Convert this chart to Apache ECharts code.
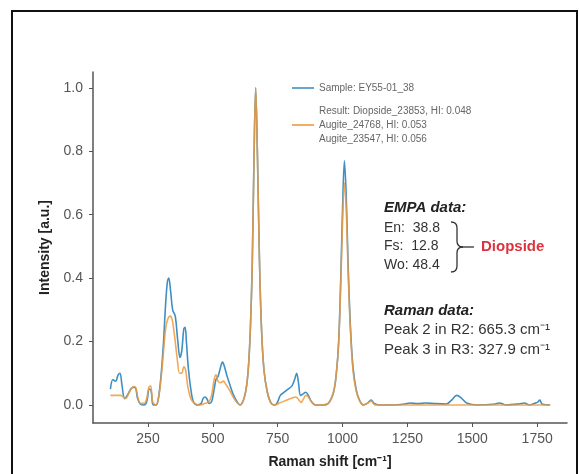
<!DOCTYPE html>
<html>
<head>
<meta charset="utf-8">
<script src="https://cdn.jsdelivr.net/npm/echarts@6/dist/echarts.min.js"></script>
<style>
  html, body { margin: 0; padding: 0; background: #fff; }
  #chart { width: 579px; height: 474px; }
</style>
</head>
<body>
<div id="chart"></div>
<script>
// Sample spectrum (blue)
var sampleShift = [105, 115, 125, 135, 142, 150, 160, 170, 180, 190, 200, 210, 220, 235, 245, 255, 262, 270, 282, 290,
  300, 310, 318, 325, 330, 337, 345, 355, 365, 373, 380, 388, 393, 398, 405, 415, 425, 440, 455, 462,
  470, 478, 485, 495, 505, 512, 520, 530, 537, 545, 555, 565, 580, 595, 605, 612, 620, 630, 638, 645,
  652, 658, 665, 672, 679, 687, 697, 710, 725, 740, 750, 760, 775, 790, 805, 815, 823, 830, 838, 848,
  858, 868, 880, 895, 920, 945, 965, 976, 985, 993, 1000, 1007, 1014, 1021, 1030, 1040, 1052, 1065, 1080, 1095, 1110,
  1122, 1140, 1200, 1240, 1260, 1290, 1320, 1360, 1400, 1420, 1440, 1460, 1480, 1520, 1580, 1605, 1630, 1680, 1700, 1720,
  1750, 1760, 1770, 1800];
var sampleIntensity = [0.05, 0.08, 0.075, 0.095, 0.10, 0.06, 0.02, 0.03, 0.045, 0.055, 0.055, 0.02, 0.003, 0.0, 0.01, 0.05, 0.045, 0.0, 0.0, 0.02,
  0.09, 0.2, 0.32, 0.39, 0.40, 0.36, 0.30, 0.28, 0.20, 0.15, 0.17, 0.24, 0.245, 0.20, 0.12, 0.05, 0.01, 0.0, 0.005, 0.02,
  0.025, 0.018, 0.005, 0.01, 0.05, 0.08, 0.09, 0.12, 0.135, 0.12, 0.09, 0.065, 0.03, 0.008, 0.0, 0.005, 0.02, 0.06, 0.13, 0.25,
  0.45, 0.75, 1.00, 0.78, 0.48, 0.25, 0.11, 0.04, 0.005, 0.0, 0.01, 0.03, 0.04, 0.05, 0.06, 0.08, 0.10, 0.07, 0.03, 0.035,
  0.04, 0.03, 0.01, 0.0, 0.0, 0.005, 0.04, 0.10, 0.20, 0.40, 0.62, 0.77, 0.66, 0.45, 0.25, 0.12, 0.05, 0.015, 0.0, 0.005, 0.015,
  0.005, 0.0, 0.0, 0.003, 0.006, 0.004, 0.006, 0.004, 0.003, 0.015, 0.03, 0.02, 0.005, 0.0, 0.002, 0.006, 0.0, 0.003, 0.006, 0.0,
  0.008, 0.015, 0.002, 0.0];

// Best match reference spectrum (orange)
var refShift = [105, 130, 145, 155, 165, 175, 185, 195, 203, 212, 222, 235, 245, 253, 260, 268, 280, 290, 300, 310,
  318, 326, 335, 343, 352, 362, 372, 380, 388, 395, 403, 415, 430, 450, 470, 485, 495, 505, 512, 520,
  530, 540, 550, 562, 575, 590, 605, 620, 630, 638, 645, 652, 658, 665, 672, 679, 687, 697, 710, 725,
  740, 755, 775, 800, 820, 832, 840, 850, 858, 868, 880, 895, 920, 945, 965, 976, 985, 993, 1000, 1007, 1014,
  1021, 1030, 1040, 1052, 1065, 1080, 1095, 1110, 1125, 1200, 1800];
var refIntensity = [0.03, 0.03, 0.03, 0.025, 0.02, 0.035, 0.05, 0.058, 0.055, 0.02, 0.005, 0.005, 0.02, 0.055, 0.06, 0.01, 0.0, 0.02, 0.08, 0.17,
  0.24, 0.27, 0.28, 0.27, 0.22, 0.15, 0.10, 0.10, 0.12, 0.11, 0.06, 0.02, 0.005, 0.0, 0.005, 0.01, 0.03, 0.08, 0.095, 0.075,
  0.07, 0.075, 0.065, 0.05, 0.03, 0.01, 0.0, 0.02, 0.06, 0.13, 0.25, 0.45, 0.75, 1.00, 0.78, 0.48, 0.25, 0.11, 0.04, 0.005,
  0.0, 0.005, 0.012, 0.02, 0.025, 0.015, 0.008, 0.02, 0.03, 0.025, 0.01, 0.0, 0.0, 0.005, 0.04, 0.10, 0.20, 0.38, 0.58, 0.70, 0.62,
  0.43, 0.24, 0.11, 0.045, 0.015, 0.0, 0.005, 0.012, 0.0, 0.0, 0.0];

var xTicks = [250, 500, 750, 1000, 1250, 1500, 1750];
var yTicks = [0, 0.2, 0.4, 0.6, 0.8, 1.0];

var legendLabels = ["Sample: EY55-01_38", "Result: Diopside_23853, HI: 0.048", "Augite_24768, HI: 0.053", "Augite_23547, HI: 0.056"];
var empaLines = ["En:  38.8", "Fs:  12.8", "Wo: 48.4"];
var ramanLines = ["Peak 2 in R2: 665.3 cm\u207B\u00B9", "Peak 3 in R3: 327.9 cm\u207B\u00B9"];

function pairs(xs, ys) {
  return xs.map(function (x, i) { return [x, ys[i]]; });
}

var blue = "#3f8fc4";
var orange = "#ee9a3c";
var font = "Liberation Sans, Arial, sans-serif";

// small helper for the text annotations
function label(x, y, text, css, color) {
  return {
    type: "text", x: x, y: y,
    style: { text: text, font: css, fill: color, textAlign: "left", textVerticalAlign: "middle" }
  };
}

var chart = echarts.init(document.getElementById("chart"));

var option = {
  backgroundColor: "#fff",
  animation: false,
  textStyle: { fontFamily: font },
  grid: { left: 93, right: 12, top: 72, bottom: 49 },
  xAxis: {
    type: "value",
    min: 38,
    max: 1865,
    name: "Raman shift [cm\u207B\u00B9]",
    nameLocation: "middle",
    nameGap: 32,
    nameTextStyle: { fontSize: 14, fontWeight: "bold", color: "#222" },
    splitLine: { show: false },
    axisLine: { onZero: false, lineStyle: { color: "#555", width: 1.5 } },
    axisTick: { customValues: xTicks, length: 4, lineStyle: { color: "#555" } },
    axisLabel: {
      customValues: xTicks, color: "#555", fontSize: 14, margin: 9,
      formatter: function (v) { return String(v); }
    }
  },
  yAxis: {
    type: "value",
    min: -0.057,
    max: 1.05,
    name: "Intensity [a.u.]",
    nameLocation: "middle",
    nameGap: 36,
    nameTextStyle: { fontSize: 14, fontWeight: "bold", color: "#222" },
    splitLine: { show: false },
    axisLine: { show: true, onZero: false, lineStyle: { color: "#555", width: 1.5 } },
    axisTick: { show: true, customValues: yTicks, length: 4, lineStyle: { color: "#555" } },
    axisLabel: {
      customValues: yTicks, color: "#555", fontSize: 14, margin: 10,
      formatter: function (v) { return v.toFixed(1); }
    }
  },
  series: [
    {
      name: "Sample",
      type: "line",
      data: pairs(sampleShift, sampleIntensity),
      showSymbol: false,
      smooth: 0.35,
      lineStyle: { color: blue, width: 1.6 }
    },
    {
      name: "Reference",
      type: "line",
      data: pairs(refShift, refIntensity),
      showSymbol: false,
      smooth: 0.35,
      lineStyle: { color: orange, width: 1.6, opacity: 0.85 }
    }
  ],
  graphic: [
    // frame around the figure
    { type: "rect", shape: { x: 12, y: 11, width: 565, height: 480 }, style: { fill: "none", stroke: "#111", lineWidth: 2 } },
    // legend
    { type: "line", shape: { x1: 292, y1: 88, x2: 314, y2: 88 }, style: { stroke: blue, lineWidth: 1.6 } },
    { type: "line", shape: { x1: 292, y1: 125, x2: 314, y2: 125 }, style: { stroke: orange, lineWidth: 1.6 } },
    label(319, 88, legendLabels[0], "10px " + font, "#666"),
    label(319, 111, legendLabels[1], "10px " + font, "#666"),
    label(319, 125, legendLabels[2], "10px " + font, "#666"),
    label(319, 139, legendLabels[3], "10px " + font, "#666"),
    // EMPA block
    label(384, 208, "EMPA data:", "italic bold 15px " + font, "#222"),
    label(384, 228, empaLines[0], "14px " + font, "#333"),
    label(384, 246, empaLines[1], "14px " + font, "#333"),
    label(384, 265, empaLines[2], "14px " + font, "#333"),
    // curly brace
    { type: "bezierCurve", shape: { x1: 451, y1: 222, x2: 457, y2: 228, cpx1: 457, cpy1: 222 }, style: { fill: "none", stroke: "#333", lineWidth: 1.3 } },
    { type: "line", shape: { x1: 457, y1: 228, x2: 457, y2: 241 }, style: { stroke: "#333", lineWidth: 1.3 } },
    { type: "bezierCurve", shape: { x1: 457, y1: 241, x2: 463, y2: 247, cpx1: 457, cpy1: 247 }, style: { fill: "none", stroke: "#333", lineWidth: 1.3 } },
    { type: "bezierCurve", shape: { x1: 463, y1: 247, x2: 457, y2: 253, cpx1: 457, cpy1: 247 }, style: { fill: "none", stroke: "#333", lineWidth: 1.3 } },
    { type: "line", shape: { x1: 457, y1: 253, x2: 457, y2: 266 }, style: { stroke: "#333", lineWidth: 1.3 } },
    { type: "bezierCurve", shape: { x1: 457, y1: 266, x2: 451, y2: 272, cpx1: 457, cpy1: 272 }, style: { fill: "none", stroke: "#333", lineWidth: 1.3 } },
    { type: "line", shape: { x1: 463, y1: 247, x2: 474, y2: 247 }, style: { stroke: "#333", lineWidth: 1.3 } },
    label(481, 247, "Diopside", "bold 15px " + font, "#d9343f"),
    // Raman block
    label(384, 311, "Raman data:", "italic bold 15px " + font, "#222"),
    label(384, 330, ramanLines[0], "15px " + font, "#333"),
    label(384, 350, ramanLines[1], "15px " + font, "#333")
  ]
};

chart.setOption(option);
</script>
</body>
</html>
